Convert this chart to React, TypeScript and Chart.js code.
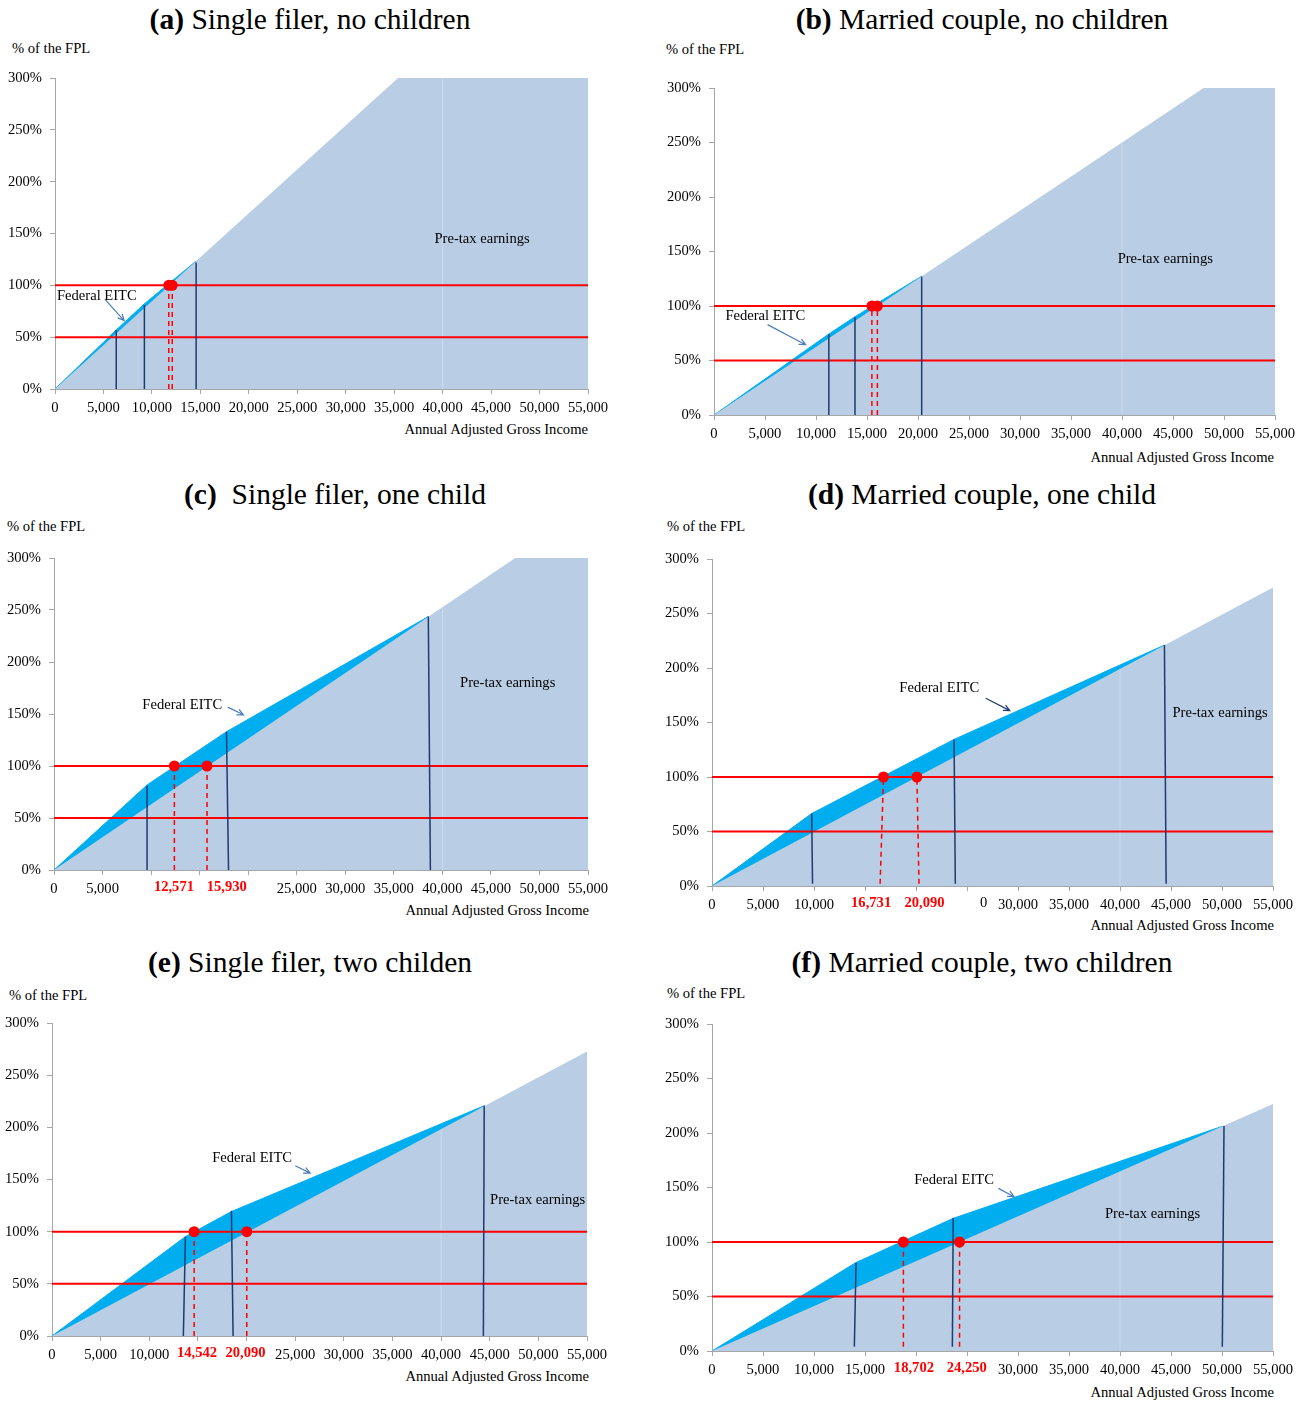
import React, { useEffect, useRef } from 'react';
import { Chart, registerables } from 'chart.js';
Chart.register(...registerables);

// ---------------- DATA ----------------
const X_MAX = 55000;
const X_STEP = 5000;
const Y_MAX = 300;
const Y_STEP = 50;
const FPL_LINES = [50, 100];

// (a) Single filer, no children
const A_EARN_X = [0, 35400, 55000];
const A_EARN_Y = [0, 300, 300];
const A_TOTAL_X = [0, 6320, 9200, 14560];
const A_TOTAL_Y = [0, 57, 82, 123.4];
const A_VLINE_X = [6320, 9224, 14562];
const A_VLINE_TOP = [57, 81, 122];
const A_CROSS_X = [11740, 12100];

// (b) Married couple, no children
const B_EARN_X = [0, 48000, 55000];
const B_EARN_Y = [0, 300, 300];
const B_TOTAL_X = [0, 11257, 13823, 20361];
const B_TOTAL_Y = [0, 74.3, 90.2, 127.3];
const B_VLINE_X = [11257, 13823, 20361];
const B_VLINE_TOP = [74, 90, 127];
const B_CROSS_X = [15478, 16016];

// (c) Single filer, one child
const C_EARN_X = [0, 47500, 55000];
const C_EARN_Y = [0, 300, 300];
const C_TOTAL_X = [0, 9585, 17764, 38553];
const C_TOTAL_Y = [0, 81.8, 133, 243.7];
const C_VLINE_BOT_X = [9585, 17977, 38766];
const C_VLINE_TOP_X = [9585, 17764, 38553];
const C_VLINE_TOP = [81, 133, 243.7];
const C_CROSS_X = [12397, 15762];
const C_RED_LABELS = ['12,571', '15,930'];

// (d) Married couple, one child
const D_EARN_X = [0, 55000];
const D_EARN_Y = [0, 273.9];
const D_TOTAL_X = [0, 9774, 23731, 44356];
const D_TOTAL_Y = [0, 66.5, 134.5, 221];
const D_VLINE_BOT_X = [9857, 23856, 44522];
const D_VLINE_TOP_X = [9774, 23731, 44356];
const D_VLINE_TOP = [66.5, 134.5, 221];
const D_CROSS_X = [16815, 20087];
const D_CROSS_BOT_X = [16484, 20294];
const D_RED_LABELS = ['16,731', '20,090'];

// (e) Single filer, two children
const E_EARN_X = [0, 55000];
const E_EARN_Y = [0, 272.8];
const E_TOTAL_X = [0, 13717, 18446, 44389];
const E_TOTAL_Y = [0, 95.3, 119.3, 220.5];
const E_VLINE_BOT_X = [13504, 18616, 44347];
const E_VLINE_TOP_X = [13717, 18446, 44432];
const E_VLINE_TOP = [95, 120, 221];
const E_CROSS_X = [14612, 20022];
const E_RED_LABELS = ['14,542', '20,090'];

// (f) Married couple, two children
const F_EARN_X = [0, 55000];
const F_EARN_Y = [0, 226.6];
const F_TOTAL_X = [0, 14081, 23649, 50113];
const F_TOTAL_Y = [0, 81, 121.7, 206.4];
const F_VLINE_BOT_X = [13957, 23566, 50031];
const F_VLINE_TOP_X = [14123, 23649, 50196];
const F_VLINE_TOP = [81, 122, 206.4];
const F_CROSS_X = [18762, 24270];
const F_RED_LABELS = ['18,702', '24,250'];

// ---------------- STYLE ----------------
const SERIF = '"Times New Roman", "Liberation Serif", serif';
const FS = 14.6;
const TFS = 29.5;
const CYAN = '#00AEEF';
const LIGHT = '#B9CDE5';
const NAVY = '#1F3B6F';
const RED = '#FF0000';
const AXIS = '#A6A6A6';
const ARROW = '#4A7EBB';

Chart.defaults.font.family = SERIF;
Chart.defaults.font.size = FS;
Chart.defaults.color = '#000';

type Panel = any;

const PANELS: Panel[] = [
  {
    letter: '(a)', title: ' Single filer, no children', tcx: 310, tcy: 20, fplX: 12, fplY: 48, xtR: 588, xtY: 429,
    L: 55, R: 588, T: 78, B: 389,
    earnX: A_EARN_X, earnY: A_EARN_Y, totX: A_TOTAL_X, totY: A_TOTAL_Y,
    vBotX: A_VLINE_X, vTopX: A_VLINE_X, vTop: A_VLINE_TOP, vBot: 0,
    crossX: A_CROSS_X, crossBotX: A_CROSS_X, crossBot: 0, g40: 300,
    hidden: [], redLabels: [], redLabelX: [], extraLabels: [],
    texts: [
      { text: 'Federal EITC', x: 200, y: 89.7, align: 'left' },
      { text: 'Pre-tax earnings', x: 44066, y: 144.5, align: 'center' },
    ],
    arrows: [{ x1: 5209, y1: 86, x2: 7130, y2: 66, color: ARROW }],
  },
  {
    letter: '(b)', title: ' Married couple, no children', tcx: 982, tcy: 20, fplX: 666, fplY: 49, xtR: 1274, xtY: 457,
    L: 714, R: 1275, T: 88, B: 415,
    earnX: B_EARN_X, earnY: B_EARN_Y, totX: B_TOTAL_X, totY: B_TOTAL_Y,
    vBotX: B_VLINE_X, vTopX: B_VLINE_X, vTop: B_VLINE_TOP, vBot: 0,
    crossX: B_CROSS_X, crossBotX: B_CROSS_X, crossBot: 0, g40: 250,
    hidden: [], redLabels: [], redLabelX: [], extraLabels: [],
    texts: [
      { text: 'Federal EITC', x: 1117, y: 90.5, align: 'left' },
      { text: 'Pre-tax earnings', x: 44241, y: 143, align: 'center' },
    ],
    arrows: [{ x1: 5256, y1: 82.9, x2: 8981, y2: 64.5, color: ARROW }],
  },
  {
    letter: '(c)', title: '\u00a0 Single filer, one child', tcx: 335, tcy: 495, fplX: 7, fplY: 526, xtR: 589, xtY: 910,
    L: 54, R: 588, T: 558, B: 870,
    earnX: C_EARN_X, earnY: C_EARN_Y, totX: C_TOTAL_X, totY: C_TOTAL_Y,
    vBotX: C_VLINE_BOT_X, vTopX: C_VLINE_TOP_X, vTop: C_VLINE_TOP, vBot: 0,
    crossX: C_CROSS_X, crossBotX: C_CROSS_X, crossBot: 0, g40: 252,
    hidden: [10000, 15000, 20000], redLabels: C_RED_LABELS, redLabelX: [12354, 17800], extraLabels: [],
    texts: [
      { text: 'Federal EITC', x: 13206, y: 158.5, align: 'center' },
      { text: 'Pre-tax earnings', x: 46732, y: 179.7, align: 'center' },
    ],
    arrows: [{ x1: 17892, y1: 156.6, x2: 19511, y2: 149.2, color: ARROW }],
  },
  {
    letter: '(d)', title: ' Married couple, one child', tcx: 982, tcy: 495, fplX: 667, fplY: 526, xtR: 1274, xtY: 925,
    L: 712, R: 1273, T: 559, B: 886,
    earnX: D_EARN_X, earnY: D_EARN_Y, totX: D_TOTAL_X, totY: D_TOTAL_Y,
    vBotX: D_VLINE_BOT_X, vTopX: D_VLINE_TOP_X, vTop: D_VLINE_TOP, vBot: 2,
    crossX: D_CROSS_X, crossBotX: D_CROSS_BOT_X, crossBot: 2, g40: 199,
    hidden: [15000, 20000, 25000], redLabels: D_RED_LABELS, redLabelX: [15600, 20830],
    extraLabels: [{ text: '0', x: 26630 }],
    texts: [
      { text: 'Federal EITC', x: 22282, y: 181.4, align: 'center' },
      { text: 'Pre-tax earnings', x: 45143, y: 158.4, align: 'left' },
    ],
    arrows: [{ x1: 26837, y1: 172.2, x2: 29198, y2: 160.9, color: NAVY }],
  },
  {
    letter: '(e)', title: ' Single filer, two childen', tcx: 310, tcy: 963, fplX: 9, fplY: 995, xtR: 589, xtY: 1376,
    L: 52, R: 587, T: 1023, B: 1336,
    earnX: E_EARN_X, earnY: E_EARN_Y, totX: E_TOTAL_X, totY: E_TOTAL_Y,
    vBotX: E_VLINE_BOT_X, vTopX: E_VLINE_TOP_X, vTop: E_VLINE_TOP, vBot: 0,
    crossX: E_CROSS_X, crossBotX: E_CROSS_X, crossBot: 0, g40: 198,
    hidden: [15000, 20000], redLabels: E_RED_LABELS, redLabelX: [14910, 19894], extraLabels: [],
    texts: [
      { text: 'Federal EITC', x: 20576, y: 170.5, align: 'center' },
      { text: 'Pre-tax earnings', x: 49927, y: 130.5, align: 'center' },
    ],
    arrows: [{ x1: 25006, y1: 163.1, x2: 26540, y2: 156.1, color: ARROW }],
  },
  {
    letter: '(f)', title: ' Married couple, two children', tcx: 982, tcy: 963, fplX: 667, fplY: 993, xtR: 1274, xtY: 1392,
    L: 712, R: 1273, T: 1024, B: 1351,
    earnX: F_EARN_X, earnY: F_EARN_Y, totX: F_TOTAL_X, totY: F_TOTAL_Y,
    vBotX: F_VLINE_BOT_X, vTopX: F_VLINE_TOP_X, vTop: F_VLINE_TOP, vBot: 4,
    crossX: F_CROSS_X, crossBotX: F_CROSS_X, crossBot: 4, g40: 165,
    hidden: [20000, 25000], redLabels: F_RED_LABELS, redLabelX: [19797, 24974], extraLabels: [],
    texts: [
      { text: 'Federal EITC', x: 23731, y: 156.9, align: 'center' },
      { text: 'Pre-tax earnings', x: 43197, y: 125.4, align: 'center' },
    ],
    arrows: [{ x1: 28080, y1: 149.2, x2: 29612, y2: 141.6, color: ARROW }],
  },
];

const Y_AXIS_W = 50;
const PAD_TOP = 12;
const PAD_RIGHT = 30;
const X_AXIS_H = 30;

const fmt = (v: number) => String(v).replace(/\B(?=(\d{3})+(?!\d))/g, ',');
const pts = (xs: number[], ys: number[]) => xs.map((x, i) => ({ x, y: ys[i] }));

const annotPlugin = {
  id: 'annot',
  afterDatasetsDraw(chart: any, _args: any, opts: any) {
    const { ctx, chartArea } = chart;
    const xs = chart.scales.x;
    const ys = chart.scales.y;
    ctx.save();
    for (const a of opts.arrows || []) {
      const x1 = xs.getPixelForValue(a.x1), y1 = ys.getPixelForValue(a.y1);
      const x2 = xs.getPixelForValue(a.x2), y2 = ys.getPixelForValue(a.y2);
      ctx.strokeStyle = a.color;
      ctx.lineWidth = 1.2;
      ctx.beginPath();
      ctx.moveTo(x1, y1);
      ctx.lineTo(x2, y2);
      const ang = Math.atan2(y2 - y1, x2 - x1);
      const hl = 7;
      ctx.moveTo(x2 - hl * Math.cos(ang - 0.45), y2 - hl * Math.sin(ang - 0.45));
      ctx.lineTo(x2, y2);
      ctx.lineTo(x2 - hl * Math.cos(ang + 0.45), y2 - hl * Math.sin(ang + 0.45));
      ctx.stroke();
    }
    ctx.textBaseline = 'middle';
    for (const t of opts.texts || []) {
      ctx.font = `${FS}px ${SERIF}`;
      ctx.fillStyle = '#000';
      ctx.textAlign = t.align;
      ctx.fillText(t.text, xs.getPixelForValue(t.x), ys.getPixelForValue(t.y));
    }
    const ly = chartArea.bottom + 17;
    (opts.redLabels || []).forEach((txt: string, i: number) => {
      ctx.font = `bold ${FS}px ${SERIF}`;
      ctx.fillStyle = RED;
      ctx.textAlign = 'center';
      ctx.fillText(txt, xs.getPixelForValue(opts.redLabelX[i]), ly);
    });
    for (const e of opts.extraLabels || []) {
      ctx.font = `${FS}px ${SERIF}`;
      ctx.fillStyle = '#000';
      ctx.textAlign = 'center';
      ctx.fillText(e.text, xs.getPixelForValue(e.x), ly);
    }
    ctx.restore();
  },
};

function PanelChart({ p }: { p: Panel }) {
  const ref = useRef<HTMLCanvasElement>(null);
  const w = p.R - p.L + Y_AXIS_W + PAD_RIGHT;
  const h = p.B - p.T + PAD_TOP + X_AXIS_H;
  useEffect(() => {
    const datasets: any[] = [];
    datasets.push({
      data: pts(p.totX, p.totY), borderColor: CYAN, borderWidth: 1, backgroundColor: CYAN,
      fill: 'origin', pointRadius: 0, order: 30,
    });
    datasets.push({
      data: pts(p.earnX, p.earnY), borderColor: 'rgba(0,0,0,0)', borderWidth: 1, backgroundColor: LIGHT,
      fill: 'origin', pointRadius: 0, order: 29,
    });
    datasets.push({
      data: [{ x: 40000, y: 0 }, { x: 40000, y: p.g40 }], borderColor: 'rgba(255,255,255,0.28)',
      borderWidth: 1, fill: false, pointRadius: 0, order: 28,
    });
    FPL_LINES.forEach((v) => {
      datasets.push({
        data: [{ x: 0, y: v }, { x: X_MAX, y: v }], borderColor: RED, borderWidth: 2,
        fill: false, pointRadius: 0, order: 20,
      });
    });
    p.vTopX.forEach((tx: number, i: number) => {
      datasets.push({
        data: [{ x: p.vBotX[i], y: p.vBot }, { x: tx, y: p.vTop[i] }], borderColor: NAVY, borderWidth: 1.5,
        fill: false, pointRadius: 0, order: 15,
      });
    });
    p.crossX.forEach((cx: number, i: number) => {
      datasets.push({
        data: [{ x: p.crossBotX[i], y: p.crossBot }, { x: cx, y: 100 }], borderColor: RED, borderWidth: 1.5,
        borderDash: [5, 4], fill: false, pointRadius: 0, order: 10,
      });
    });
    datasets.push({
      data: p.crossX.map((cx: number) => ({ x: cx, y: 100 })), showLine: false, pointRadius: 5.5,
      pointBackgroundColor: RED, pointBorderColor: RED, pointBorderWidth: 0, order: 1,
    });

    const chart = new Chart(ref.current as HTMLCanvasElement, {
      type: 'line',
      data: { datasets },
      plugins: [annotPlugin],
      options: {
        animation: false,
        responsive: false,
        devicePixelRatio: 1,
        events: [],
        layout: { padding: { left: 0, top: PAD_TOP, right: PAD_RIGHT, bottom: 0 } },
        plugins: {
          legend: { display: false },
          tooltip: { enabled: false },
          annot: {
            texts: p.texts, arrows: p.arrows, redLabels: p.redLabels, redLabelX: p.redLabelX,
            extraLabels: p.extraLabels,
          },
        } as any,
        scales: {
          x: {
            type: 'linear', min: 0, max: X_MAX,
            grid: { display: true, drawOnChartArea: false, drawTicks: true, tickLength: 5, color: AXIS },
            border: { display: true, color: AXIS, width: 1 },
            ticks: {
              stepSize: X_STEP, autoSkip: false, maxRotation: 0, padding: 5, color: '#000',
              font: { family: SERIF, size: FS },
              callback: (v: any) => (p.hidden.includes(Number(v)) ? '' : fmt(Number(v))),
            },
            afterFit: (s: any) => { s.height = X_AXIS_H; s.paddingLeft = 0; s.paddingRight = 0; },
          },
          y: {
            type: 'linear', min: 0, max: Y_MAX,
            grid: { display: true, drawOnChartArea: false, drawTicks: true, tickLength: 5, color: AXIS },
            border: { display: true, color: AXIS, width: 1 },
            ticks: {
              stepSize: Y_STEP, padding: 8, color: '#000', font: { family: SERIF, size: FS },
              callback: (v: any) => `${v}%`,
            },
            afterFit: (s: any) => { s.width = Y_AXIS_W; s.paddingTop = 0; s.paddingBottom = 0; },
          },
        },
      } as any,
    });
    return () => chart.destroy();
  }, []);
  return (
    <canvas
      ref={ref}
      width={w}
      height={h}
      style={{ position: 'absolute', left: p.L - Y_AXIS_W, top: p.T - PAD_TOP, width: w, height: h }}
    />
  );
}

const textBase: React.CSSProperties = {
  position: 'absolute', fontFamily: SERIF, whiteSpace: 'nowrap', color: '#000',
};

export default function App() {
  return (
    <div style={{ position: 'absolute', left: 0, top: 0, width: 1311, height: 1401, background: '#fff', overflow: 'hidden' }}>
      {PANELS.map((p, i) => (
        <PanelChart key={i} p={p} />
      ))}
      {PANELS.map((p, i) => (
        <React.Fragment key={'t' + i}>
          <div style={{ ...textBase, left: p.tcx - 300, width: 600, top: p.tcy - TFS / 2, fontSize: TFS, lineHeight: `${TFS}px`, textAlign: 'center' }}>
            <b>{p.letter}</b>{p.title}
          </div>
          <div style={{ ...textBase, left: p.fplX, top: p.fplY - FS / 2, fontSize: FS, lineHeight: `${FS}px` }}>% of the FPL</div>
          <div style={{ ...textBase, left: p.xtR - 300, width: 300, top: p.xtY - FS / 2, fontSize: FS, lineHeight: `${FS}px`, textAlign: 'right' }}>
            Annual Adjusted Gross Income
          </div>
        </React.Fragment>
      ))}
    </div>
  );
}
